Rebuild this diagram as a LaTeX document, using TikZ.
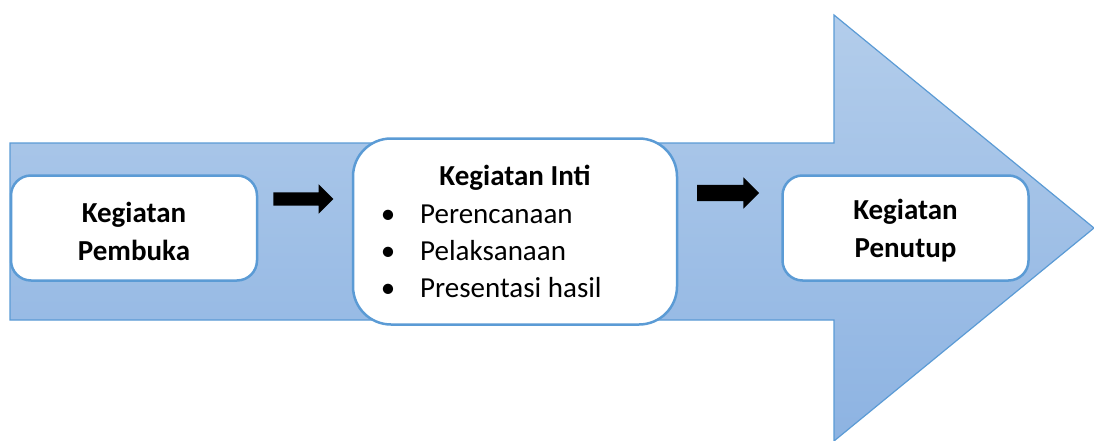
\documentclass[tikz,border=0pt]{standalone}
\usepackage{fontspec}
\setmainfont{Carlito}
\usetikzlibrary{shapes.arrows}
\definecolor{edgeblue}{HTML}{5B9BD5}
\definecolor{toplight}{HTML}{B3CDEB}
\definecolor{botdark}{HTML}{8DB3E2}
\tikzset{
  stagebox/.style={draw=edgeblue, line width=2.5pt, fill=white, inner sep=0pt},
  blockarrow/.style={single arrow, fill=black, draw=none, inner sep=0pt, single arrow tip angle=90},
  bigtext/.style={font=\fontsize{29}{38}\selectfont\bfseries, align=center, inner sep=0pt},
  itemtext/.style={font=\fontsize{29}{38}\selectfont, inner sep=0pt, anchor=base west},
  bullettext/.style={font=\fontsize{29}{38}\selectfont, inner sep=0pt, anchor=base},
}
\begin{document}
\begin{tikzpicture}[x=1pt,y=-1pt]
\useasboundingbox (0,0) rectangle (1094,441);
% big arrow
\shade[top color=toplight, bottom color=botdark, draw=edgeblue, line width=1.2pt]
  (10,143) -- (834,143) -- (834,15) -- (1094,228) -- (834,441) -- (834,320) -- (10,320) -- cycle;
% boxes
\node[stagebox, rounded corners=20pt, minimum width=246pt, minimum height=105pt] (pembuka) at (134,228) {};
\node[bigtext] (pembukatext) at (134,231) {Kegiatan\\Pembuka};
\node[stagebox, rounded corners=38pt, minimum width=324pt, minimum height=186pt] (inti) at (515,231.5) {};
\node[stagebox, rounded corners=20pt, minimum width=246pt, minimum height=105pt] (penutup) at (905.5,228) {};
\node[bigtext] (penutuptext) at (905.5,231) {Kegiatan\\Penutup};
% inti text
\node[font=\fontsize{29}{38}\selectfont\bfseries, inner sep=0pt, anchor=base] (intititle) at (515,185) {Kegiatan Inti};
\node[bullettext] (b1) at (388,223) {•};
\node[itemtext] (i1) at (420,223) {Perencanaan};
\node[bullettext] (b2) at (388,260) {•};
\node[itemtext] (i2) at (420,260) {Pelaksanaan};
\node[bullettext] (b3) at (388,297) {•};
\node[itemtext] (i3) at (420,297) {Presentasi hasil};
% black arrows
\node[blockarrow, minimum height=60pt, inner ysep=6.5pt, single arrow head extend=8pt] (arr1) at (300,199) {};
\node[blockarrow, minimum height=62pt, inner ysep=8pt, single arrow head extend=7.5pt] (arr2) at (724,193) {};
\end{tikzpicture}
\end{document}
